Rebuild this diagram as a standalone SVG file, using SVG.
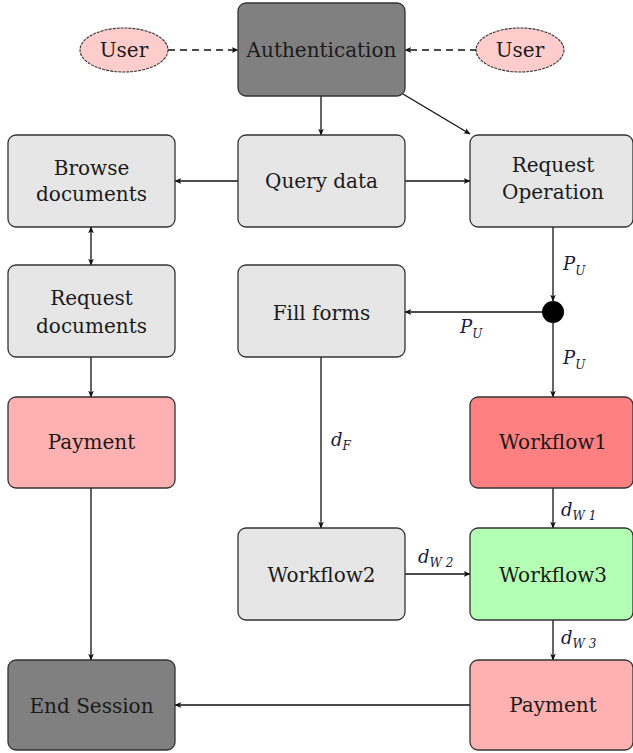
<svg xmlns="http://www.w3.org/2000/svg" width="633" height="753" viewBox="0 0 633 753">
<defs>
<marker id="ah" viewBox="0 0 10 10" refX="9" refY="5" markerWidth="7" markerHeight="7" orient="auto-start-reverse" markerUnits="userSpaceOnUse">
<path d="M0,1 L10,5 L0,9 L2.5,5 z" fill="#111"/>
</marker>
<style>
.box{stroke:#333;stroke-width:1.3}
.gray{fill:#e6e6e6}
.dark{fill:#808080}
.pink{fill:#ffb0b0}
.red{fill:#ff8080}
.green{fill:#b3ffb3}
.user{fill:#ffcccc;stroke:#333;stroke-width:1.1;stroke-dasharray:3 1}
text{font-family:'DejaVu Serif',serif}
.t{font-size:20px;fill:#1a1a1a;text-anchor:middle}
.m{font-size:18px;fill:#1a1a3a;font-style:italic}
.s{font-size:12px}
.c{stroke:#111;stroke-width:1.3;fill:none;marker-end:url(#ah)}
.d{stroke-dasharray:7 5}
</style>
</defs>
<g id="connectors">
<line class="c d" x1="168" y1="50" x2="238" y2="50"/>
<line class="c d" x1="477" y1="50" x2="405" y2="50"/>
<line class="c" x1="321" y1="96" x2="321" y2="135"/>
<line class="c" x1="403" y1="94" x2="470" y2="134"/>
<line class="c" x1="238" y1="181" x2="175" y2="181"/>
<line class="c" x1="405" y1="181" x2="470" y2="181"/>
<line class="c" x1="91" y1="227" x2="91" y2="265" style="marker-start:url(#ah)"/>
<line class="c" x1="553" y1="227" x2="553" y2="301"/>
<line class="c" x1="542" y1="312" x2="405" y2="312"/>
<line class="c" x1="553" y1="323" x2="553" y2="397"/>
<line class="c" x1="91" y1="357" x2="91" y2="397"/>
<line class="c" x1="321" y1="357" x2="321" y2="528"/>
<line class="c" x1="553" y1="488" x2="553" y2="528"/>
<line class="c" x1="405" y1="574" x2="470" y2="574"/>
<line class="c" x1="553" y1="620" x2="553" y2="660"/>
<line class="c" x1="470" y1="705" x2="175" y2="705"/>
<line class="c" x1="91" y1="488" x2="91" y2="660"/>
<circle cx="553" cy="312" r="11" fill="#000"/>
<text class="m" x="563" y="270">P<tspan class="s" dy="5">U</tspan></text>
<text class="m" x="460" y="333">P<tspan class="s" dy="5">U</tspan></text>
<text class="m" x="563" y="364">P<tspan class="s" dy="5">U</tspan></text>
<text class="m" x="331" y="446">d<tspan class="s" dy="4">F</tspan></text>
<text class="m" x="561" y="516">d<tspan class="s" dy="4">W 1</tspan></text>
<text class="m" x="418" y="563">d<tspan class="s" dy="4">W 2</tspan></text>
<text class="m" x="561" y="644">d<tspan class="s" dy="4">W 3</tspan></text>
</g>
<g id="user1"><ellipse class="user" cx="124" cy="50" rx="44" ry="22"/><text class="t" x="124" y="57">User</text></g>
<g id="user2"><ellipse class="user" cx="520" cy="50" rx="44" ry="22"/><text class="t" x="520" y="57">User</text></g>
<g id="auth"><rect class="box dark" x="238" y="3" width="167" height="93" rx="8"/><text class="t" x="321.5" y="57">Authentication</text></g>
<g id="browse"><rect class="box gray" x="8" y="135" width="167" height="92" rx="8"/><text class="t" x="91.5" y="175">Browse</text><text class="t" x="91.5" y="201">documents</text></g>
<g id="query"><rect class="box gray" x="238" y="135" width="167" height="92" rx="8"/><text class="t" x="321.5" y="188">Query data</text></g>
<g id="reqop"><rect class="box gray" x="470" y="135" width="163" height="92" rx="8"/><text class="t" x="553" y="172">Request</text><text class="t" x="553" y="199">Operation</text></g>
<g id="reqdoc"><rect class="box gray" x="8" y="265" width="167" height="92" rx="8"/><text class="t" x="91.5" y="305">Request</text><text class="t" x="91.5" y="333">documents</text></g>
<g id="fill"><rect class="box gray" x="238" y="265" width="167" height="92" rx="8"/><text class="t" x="321.5" y="320">Fill forms</text></g>
<g id="pay1"><rect class="box pink" x="8" y="397" width="167" height="91" rx="8"/><text class="t" x="91.5" y="449">Payment</text></g>
<g id="wf1"><rect class="box red" x="470" y="397" width="163" height="91" rx="8"/><text class="t" x="553" y="449">Workflow1</text></g>
<g id="wf2"><rect class="box gray" x="238" y="528" width="167" height="92" rx="8"/><text class="t" x="321.5" y="582">Workflow2</text></g>
<g id="wf3"><rect class="box green" x="470" y="528" width="163" height="92" rx="8"/><text class="t" x="553" y="582">Workflow3</text></g>
<g id="endsession"><rect class="box dark" x="8" y="660" width="167" height="90" rx="8"/><text class="t" x="91.5" y="713">End Session</text></g>
<g id="pay2"><rect class="box pink" x="470" y="660" width="163" height="90" rx="8"/><text class="t" x="553" y="712">Payment</text></g>
</svg>
